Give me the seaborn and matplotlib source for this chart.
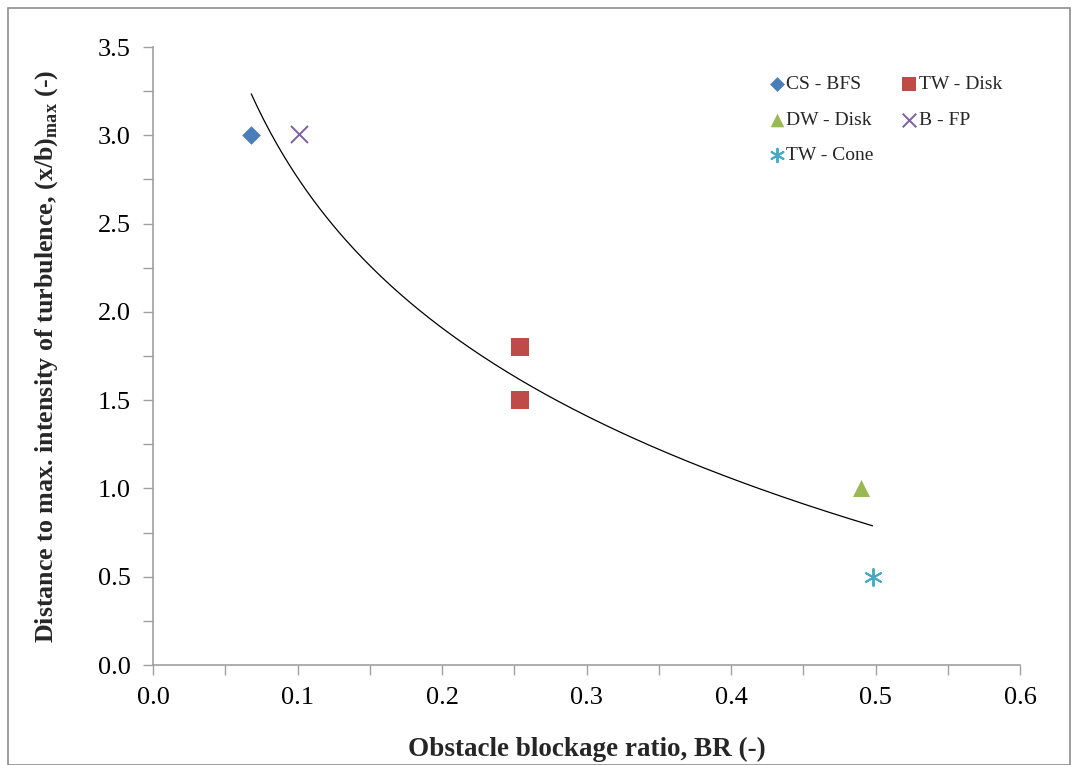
import numpy as np
import pandas as pd
import matplotlib
matplotlib.use("Agg")
import matplotlib.pyplot as plt
import seaborn as sns
from matplotlib.patches import Rectangle
from matplotlib.ticker import MultipleLocator, FormatStrFormatter

# Data
series = ["CS - BFS", "TW - Disk", "TW - Disk", "DW - Disk", "B - FP", "TW - Cone"]
blockage = [0.068, 0.254, 0.254, 0.490, 0.101, 0.498]
distance = [3.00, 1.80, 1.50, 1.00, 3.01, 0.50]
legend_order = ["CS - BFS", "TW - Disk", "DW - Disk", "B - FP", "TW - Cone"]

colors = {"CS - BFS": "#4A7EBB", "TW - Disk": "#BE4B48", "DW - Disk": "#98B954",
          "B - FP": "#7D60A0", "TW - Cone": "#46AAC5"}
markers = {"CS - BFS": "D", "TW - Disk": "s", "DW - Disk": "^", "B - FP": "x",
           "TW - Cone": (6, 2, 0)}
sizes = {"CS - BFS": 90, "TW - Disk": 150, "DW - Disk": 150, "B - FP": 150, "TW - Cone": 150}

df = pd.DataFrame({"series": series, "BR": blockage, "dist": distance})

sns.set_theme(style="white")
plt.rcParams["font.family"] = ["Liberation Serif", "DejaVu Serif"]
plt.rcParams["mathtext.fontset"] = "custom"
plt.rcParams["mathtext.rm"] = "Liberation Serif"
plt.rcParams["mathtext.bf"] = "Liberation Serif:bold"

fig = plt.figure(figsize=(10.72, 7.65), dpi=100)
ax = fig.add_axes([153/1072, 1 - 665/765, (1020-153)/1072, (665-47)/765])

# Logarithmic trend line (least-squares fit on ln x over the data range)
a, b = np.polyfit(np.log(df["BR"]), df["dist"], 1)
xs = np.linspace(df["BR"].min(), df["BR"].max(), 200)
trend = pd.DataFrame({"x": xs, "y": a * np.log(xs) + b})
sns.lineplot(data=trend, x="x", y="y", ax=ax, color="black", linewidth=0.9, legend=False)

for name in legend_order:
    sub = df[df["series"] == name]
    lw = 1.4 if name in ("B - FP", "TW - Cone") else 0
    sns.scatterplot(data=sub, x="BR", y="dist", ax=ax, marker=markers[name],
                    color=colors[name], s=sizes[name], linewidth=lw,
                    edgecolor=colors[name] if lw == 0 else None, label=name, zorder=3)

ax.set_xlim(0, 0.6)
ax.set_ylim(0, 3.5)
ax.xaxis.set_major_locator(MultipleLocator(0.1))
ax.xaxis.set_minor_locator(MultipleLocator(0.05))
ax.yaxis.set_major_locator(MultipleLocator(0.5))
ax.yaxis.set_minor_locator(MultipleLocator(0.25))
ax.xaxis.set_major_formatter(FormatStrFormatter("%.1f"))
ax.yaxis.set_major_formatter(FormatStrFormatter("%.1f"))

for side in ["top", "right"]:
    ax.spines[side].set_visible(False)
for side in ["left", "bottom"]:
    ax.spines[side].set_color("#A0A0A0")
    ax.spines[side].set_linewidth(1.2)

ax.tick_params(axis="both", which="both", direction="out", color="#A0A0A0",
               width=1.0, labelsize=19, labelcolor="black",
               bottom=True, left=True, top=False, right=False)
ax.tick_params(axis="both", which="both", length=7)
ax.tick_params(axis="y", which="major", pad=9)
ax.tick_params(axis="x", which="major", pad=9)

ax.set_xlabel("Obstacle blockage ratio, BR (-)", fontsize=19.5, fontweight="bold", labelpad=20)
ax.set_ylabel(r"Distance to max. intensity of turbulence, (x/b)$_{\mathbf{max}}$ (-)",
              fontsize=18.7, fontweight="bold", labelpad=27)

hl, ll = ax.get_legend_handles_labels()
hmap = dict(zip(ll, hl))
col_order = ["CS - BFS", "DW - Disk", "TW - Cone", "TW - Disk", "B - FP"]
ax.legend([hmap[n] for n in col_order], col_order, ncol=2, frameon=False,
          loc="upper left", bbox_to_anchor=(0.688, 0.982), fontsize=14,
          handletextpad=0.0, handlelength=1.0, columnspacing=1.3,
          labelspacing=0.92, markerscale=0.8)

fig.patches.append(Rectangle((8/1072, 0), (1070-8)/1072, 1 - 8/765,
                             transform=fig.transFigure, fill=False,
                             edgecolor="#8C8C8C", linewidth=1.2))

fig.savefig("out.png", dpi=100)
